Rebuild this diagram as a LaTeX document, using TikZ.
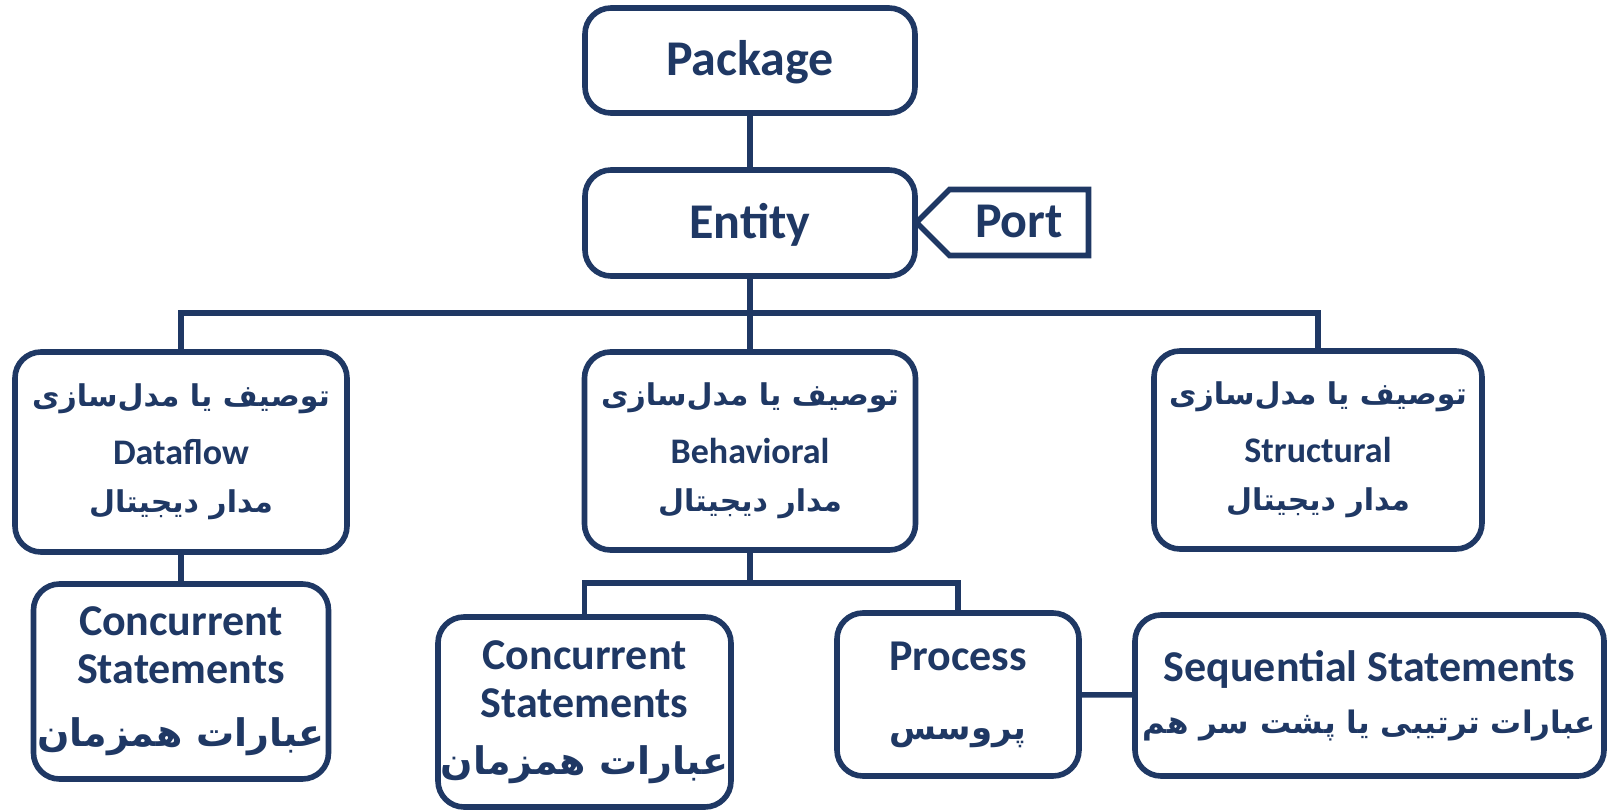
\documentclass[tikz,border=0pt]{standalone}
\usepackage{fontspec}
\setmainfont{Carlito}
\newfontfamily\farsi[Script=Arabic]{DejaVu Sans}
\TeXXeTstate=1
\usetikzlibrary{positioning,shapes.symbols}
\definecolor{boxblue}{HTML}{1F3864}
\newcommand\fasmall[1]{{\farsi\fontsize{15}{15}\selectfont\beginR#1\endR}}
\newcommand\fabig[1]{{\farsi\bfseries\fontsize{19}{19}\selectfont\beginR#1\endR}}

\begin{document}
\begin{tikzpicture}[
        x=0.5pt, y=-0.5pt,
        box/.style={draw=boxblue, line width=2.8pt, rounded corners=13pt, align=center, text=boxblue, inner sep=0pt},
        title/.style={font=\bfseries\fontsize{25}{30}\selectfont, text height=15pt, text depth=0pt},
        kind/.style={font=\bfseries\fontsize{18}{26}\selectfont},
        stmt/.style={font=\bfseries\fontsize{22}{24}\selectfont},
        line/.style={draw=boxblue, line width=2.8pt}
    ]
        \useasboundingbox (0,0) rectangle (1607,809);

        \node[box, title, minimum width=165pt, minimum height=52.5pt] (pkg) at (750,60.5) {Package};
        \node[box, title, minimum width=165pt, minimum height=53pt] (ent) at (750,223) {Entity};
        \node[box, title, signal, signal to=west, signal from=nowhere, signal pointer angle=90,
              rounded corners=0pt, minimum width=86pt, minimum height=33pt] (port) at (1019,222.5) {Port};

        \node[box, kind, minimum width=166pt, minimum height=100pt] (df) at (181,452)
            {\fasmall{توصیف یا مدل‌سازی}\\[3pt]Dataflow\\[-2pt]\fasmall{مدار دیجیتال}};
        \node[box, kind, minimum width=165.5pt, minimum height=99pt] (bh) at (750,451)
            {\fasmall{توصیف یا مدل‌سازی}\\[3pt]Behavioral\\[-2pt]\fasmall{مدار دیجیتال}};
        \node[box, kind, minimum width=164pt, minimum height=99pt] (st) at (1318,450)
            {\fasmall{توصیف یا مدل‌سازی}\\[3pt]Structural\\[-2pt]\fasmall{مدار دیجیتال}};

        \node[box, stmt, minimum width=147.5pt, minimum height=97.5pt] (ccl) at (181,681.5)
            {Concurrent\\Statements\\[7.5pt]\fabig{عبارات همزمان}};
        \node[box, stmt, minimum width=146.5pt, minimum height=95pt] (ccm) at (584.5,712)
            {Concurrent\\Statements\\[4.5pt]\fabig{عبارات همزمان}};
        \node[box, stmt, minimum width=121pt, minimum height=81.5pt] (proc) at (958,694.5)
            {Process\\[10.5pt]{\farsi\bfseries\fontsize{17}{17}\selectfont\beginR پروسس\endR}};
        \node[box, stmt, minimum width=234.5pt, minimum height=80.5pt] (seq) at (1369.5,695.5)
            {Sequential Statements\\[2pt]{\farsi\fontsize{15.5}{15.5}\selectfont\beginR عبارات ترتیبی یا پشت سر هم\endR}};

        \coordinate (bus) at (750,313);
        \coordinate (sub) at (750,583);

        \draw[line] (pkg) -- (ent);
        \draw[line] (ent) -- (bh);
        \draw[line] (df.north) |- (bus) -| (st.north);
        \draw[line] (df) -- (ccl);
        \draw[line] (bh.south) -- (sub);
        \draw[line] (ccm.north) |- (sub) -| (proc.north);
        \draw[line] (proc) -- (seq);
    \end{tikzpicture}
\end{document}
